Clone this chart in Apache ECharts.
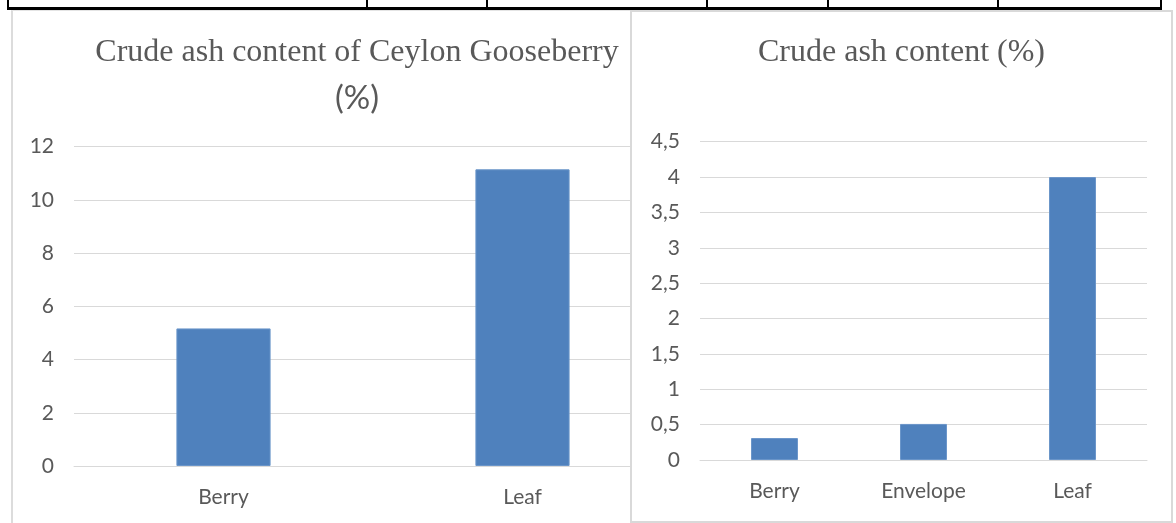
<!DOCTYPE html>
<html>
<head>
<meta charset="utf-8">
<script src="https://cdn.jsdelivr.net/npm/echarts@6/dist/echarts.min.js"></script>
<style>
  html, body { margin: 0; padding: 0; background: #fff; }
  body { width: 1176px; height: 523px; position: relative; overflow: hidden; }
  /* bottom edge of the table row above the charts */
  .rule { position: absolute; left: 7px; top: 7px; width: 1155px; height: 3px; background: #000; }
  .cell { position: absolute; top: 0; width: 2px; height: 9px; background: #000; }
  #left { position: absolute; left: 11px; top: 10px; width: 688px; height: 520px;
          border-left: 2px solid #dcdcdc; border-top: 1px solid #e4e4e4; background: #fff; }
  #right { position: absolute; left: 630px; top: 10px; width: 539px; height: 509px;
           border: 2px solid #d9d9d9; background: #fff; }
</style>
</head>
<body>
<div class="rule"></div>
<div class="cell" style="left:7px"></div>
<div class="cell" style="left:366px"></div>
<div class="cell" style="left:486px"></div>
<div class="cell" style="left:706px"></div>
<div class="cell" style="left:827px"></div>
<div class="cell" style="left:997px"></div>
<div class="cell" style="left:1160px"></div>
<div id="left"></div>
<div id="right"></div>
<script>
// Crude ash content, whole plant parts
const gooseberryParts = ['Berry', 'Leaf'];
const gooseberryAsh = [5.17, 11.15];
const gooseberryTicks = [0, 2, 4, 6, 8, 10, 12];

// Crude ash content, including the envelope
const fruitParts = ['Berry', 'Envelope', 'Leaf'];
const fruitAsh = [0.31, 0.51, 4.0];
const fruitTicks = [0, 0.5, 1, 1.5, 2, 2.5, 3, 3.5, 4, 4.5];

const BAR = '#4f81bd';
const TEXT = '#595959';
const GRID = '#d9d9d9';
const LABEL_FONT = 'Lato, "Open Sans", sans-serif';
const TITLE_FONT = '"Liberation Serif", "DejaVu Serif", serif';

function valueAxis(ticks, fmt) {
  return {
    type: 'value',
    min: ticks[0],
    max: ticks[ticks.length - 1],
    interval: ticks[1] - ticks[0],
    axisLine: { show: false },
    axisTick: { show: false },
    splitLine: { lineStyle: { color: GRID, width: 1 } },
    axisLabel: { color: TEXT, fontFamily: LABEL_FONT, fontSize: 21, margin: 20, formatter: fmt }
  };
}

function categoryAxis(cats) {
  return {
    type: 'category',
    data: cats,
    axisLine: { lineStyle: { color: GRID, width: 1 } },
    axisTick: { show: false },
    axisLabel: { color: TEXT, fontFamily: LABEL_FONT, fontSize: 21, margin: 21 }
  };
}

function barSeries(values, gap) {
  return {
    type: 'bar',
    data: values,
    barCategoryGap: gap,
    itemStyle: { color: BAR, borderColor: '#6a95c9', borderWidth: 1 },
    silent: true,
    animation: false
  };
}

const leftChart = echarts.init(document.getElementById('left'), null, { renderer: 'canvas' });
leftChart.setOption({
  animation: false,
  title: [
    {
      text: 'Crude ash content of Ceylon Gooseberry',
      left: 'center', top: 21,
      textStyle: { fontFamily: TITLE_FONT, fontSize: 32, fontWeight: 'normal', color: TEXT }
    },
    {
      text: '(%)',
      left: 'center', top: 66,
      textStyle: { fontFamily: LABEL_FONT, fontSize: 33, fontWeight: 'normal', color: TEXT }
    }
  ],
  grid: { left: 61, top: 135.7, width: 598, height: 319.3, containLabel: false },
  xAxis: categoryAxis(gooseberryParts),
  yAxis: valueAxis(gooseberryTicks),
  series: [barSeries(gooseberryAsh, '68.5%')]
});

const rightChart = echarts.init(document.getElementById('right'), null, { renderer: 'canvas' });
rightChart.setOption({
  animation: false,
  title: {
    text: 'Crude ash content (%)',
    left: 'center', top: 20,
    textStyle: { fontFamily: TITLE_FONT, fontSize: 32, fontWeight: 'normal', color: TEXT }
  },
  grid: { left: 68, top: 129.7, width: 447, height: 318.3, containLabel: false },
  xAxis: categoryAxis(fruitParts),
  yAxis: valueAxis(fruitTicks, v => String(v).replace('.', ',')),
  series: [barSeries(fruitAsh, '68.5%')]
});
</script>
</body>
</html>
